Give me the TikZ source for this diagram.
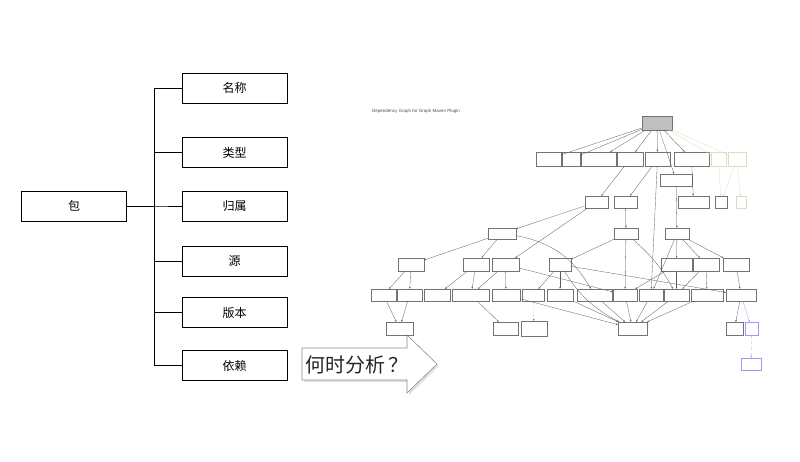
\documentclass[tikz,border=0pt]{standalone}
\usepackage{fontspec}
\setmainfont{Liberation Sans}
\newfontfamily\cjk{Noto Sans CJK SC}
\usetikzlibrary{arrows.meta}
\begin{document}
\begin{tikzpicture}[
  x=1pt, y=-1pt,
  leaf/.style={draw, line width=0.8pt, rectangle, align=center, minimum width=105pt, minimum height=30pt, font=\cjk\fontsize{12}{14}\selectfont},
  gnode/.style={draw=black!55, line width=0.35pt, rectangle, inner sep=0pt, minimum height=12pt},
  faded/.style={gnode, draw=yellow!50!black!30},
  bluish/.style={gnode, draw=blue!40!white},
  dep/.style={draw=black!65, line width=0.3pt, -{Stealth[length=2pt,width=1.6pt]}},
  fdep/.style={dep, draw=yellow!50!black!30}
]
\useasboundingbox (0,0) rectangle (800,461);
% the package and its attributes
\node[leaf] (bao) at (74,206) {包};
\node[leaf] (mc) at (234.5,88) {名称};
\node[leaf] (lx) at (234.5,152.5) {类型};
\node[leaf] (gs) at (234.5,206) {归属};
\node[leaf] (yuan) at (234.5,261) {源};
\node[leaf] (bb) at (234.5,312.5) {版本};
\node[leaf] (yl) at (234.5,365.5) {依赖};
\foreach \n in {mc,lx,gs,yuan,bb,yl}
  \draw[line width=0.9pt] (bao.east) -- ++(28,0) |- (\n.west);

% block arrow
\fill[black!12] (304,350) -- (409,350) -- (409,337) -- (439,366) -- (409,395) -- (409,382) -- (304,382) -- cycle;
\draw[black!45, fill=white, line width=0.6pt] (302,348) -- (407,348) -- (407,335) -- (437,364) -- (407,393) -- (407,380) -- (302,380) -- cycle;
\node[font=\cjk\fontsize{20}{22}\selectfont, text=black!85] (when) at (357,365) {何时分析\hspace{3pt}？};

% dependency graph
\node[anchor=west, font=\fontsize{4.5}{5}\selectfont, text=black!70, inner sep=0pt] (title) at (372,111) {Dependency Graph for Graph Maven Plugin};

\node[gnode, fill=black!25, minimum width=30pt, minimum height=14pt] (root) at (657,123) {};
% row 1
\node[gnode, minimum width=25pt, minimum height=14pt] (a1) at (548.5,159) {};
\node[gnode, minimum width=18pt, minimum height=14pt] (a2) at (571,159) {};
\node[gnode, minimum width=35pt, minimum height=14pt] (a3) at (598.5,159) {};
\node[gnode, minimum width=26pt, minimum height=14pt] (a4) at (630,159) {};
\node[gnode, minimum width=25pt, minimum height=14pt] (a5) at (657.5,159) {};
\node[gnode, minimum width=35pt, minimum height=14pt] (a6) at (691.5,159) {};
\node[faded, minimum width=15pt, minimum height=14pt] (a7) at (718.5,159) {};
\node[faded, minimum width=18pt, minimum height=14pt] (a8) at (737,159) {};
\node[gnode, minimum width=32pt] (b1) at (676,180) {};
% row 2
\node[gnode, minimum width=23pt] (c1) at (596.5,202) {};
\node[gnode, minimum width=23pt] (c2) at (625.5,202) {};
\node[gnode, minimum width=31pt] (c3) at (693.5,202) {};
\node[gnode, minimum width=12pt] (c4) at (721,202) {};
\node[faded, minimum width=10pt] (c5) at (741,202) {};
% row 3
\node[gnode, minimum width=28pt, minimum height=11pt] (d1) at (502,233.5) {};
\node[gnode, minimum width=24pt, minimum height=11pt] (d2) at (626,233.5) {};
\node[gnode, minimum width=24pt, minimum height=11pt] (d3) at (677,233.5) {};
% row 4
\node[gnode, minimum width=26pt, minimum height=13pt] (e1) at (411,264.5) {};
\node[gnode, minimum width=26pt, minimum height=13pt] (e2) at (476,264.5) {};
\node[gnode, minimum width=27pt, minimum height=13pt] (e3) at (505.5,264.5) {};
\node[gnode, minimum width=22pt, minimum height=13pt] (e4) at (560,264.5) {};
\node[gnode, minimum width=31pt, minimum height=13pt] (e5) at (676.5,264.5) {};
\node[gnode, minimum width=26pt, minimum height=13pt] (e6) at (706,264.5) {};
\node[gnode, minimum width=26pt, minimum height=13pt] (e7) at (736,264.5) {};
% row 5
\node[gnode, minimum width=25pt] (f1) at (383.5,295) {};
\node[gnode, minimum width=25pt] (f2) at (409.5,295) {};
\node[gnode, minimum width=26pt] (f3) at (437,295) {};
\node[gnode, minimum width=37pt] (f4) at (471,295) {};
\node[gnode, minimum width=28pt] (f5) at (506,295) {};
\node[gnode, minimum width=22pt] (f6) at (533,295) {};
\node[gnode, minimum width=26pt] (f7) at (560,295) {};
\node[gnode, minimum width=35pt] (f8) at (594.5,295) {};
\node[gnode, minimum width=24pt] (f9) at (625,295) {};
\node[gnode, minimum width=24pt] (f10) at (651,295) {};
\node[gnode, minimum width=25pt] (f11) at (676.5,295) {};
\node[gnode, minimum width=32pt] (f12) at (707,295) {};
\node[gnode, minimum width=30pt] (f13) at (741,295) {};
% row 6
\node[gnode, minimum width=27pt, minimum height=13pt] (g1) at (399.5,328.5) {};
\node[gnode, minimum width=25pt, minimum height=13pt] (g2) at (505.5,328.5) {};
\node[gnode, minimum width=26pt, minimum height=15pt] (g3) at (534,328.5) {};
\node[gnode, minimum width=29pt, minimum height=13pt] (g4) at (632.5,328.5) {};
\node[gnode, minimum width=17pt, minimum height=13pt] (g5) at (734.5,328.5) {};
\node[bluish, minimum width=13pt, minimum height=13pt] (g6) at (751.5,328.5) {};
\node[bluish, minimum width=20pt] (h1) at (751,364) {};

\foreach \t in {a1,a2,a3,a4,a5,a6,b1}
  \draw[dep] (root) -- (\t);
\draw[fdep] (root) -- (a7);
\draw[fdep] (root) -- (a8);
\draw[dep] (a4) -- (c1);
\draw[dep] (a5) -- (c2);
\draw[dep] (a5) -- (f10);
\draw[dep] (a6) -- (c3);
\draw[fdep] (a7) -- (c4);
\draw[fdep] (a8) -- (c4);
\draw[fdep] (a8) -- (c5);
\draw[dep] (b1) -- (d3);
\draw[dep] (c1) -- (d1);
\draw[dep] (c1) -- (e3);
\draw[dep] (c2) -- (d2);
\draw[dep] (d1) -- (e1);
\draw[dep] (d1) -- (e2);
\draw[dep] (d1) to[bend left=25] (f8);
\draw[dep] (d2) -- (e4);
\draw[dep] (d2) -- (f9);
\draw[dep] (d2) to[bend left=10] (f11);
\draw[dep] (d3) -- (f10);
\draw[dep] (d3) -- (e5);
\draw[dep] (d3) -- (e6);
\draw[dep] (d3) -- (e7);
\draw[dep] (e1) -- (f1);
\draw[dep] (e1) -- (f2);
\draw[dep] (e2) -- (f3);
\draw[dep] (e2) -- (f4);
\draw[dep] (e3) -- (f4);
\draw[dep] (e3) -- (f5);
\draw[dep] (e3) -- (f9);
\draw[dep] (e4) -- (f6);
\draw[dep] (e4) -- (f7);
\draw[dep] (e4) -- (f13);
\draw[dep] (e4) to[bend right=15] (g4);
\draw[dep] (e5) -- (f9);
\draw[dep] (e5) -- (f11);
\draw[dep] (e6) -- (f11);
\draw[dep] (e6) -- (f12);
\draw[dep] (e7) -- (f13);
\draw[dep] (f1) -- (g1);
\draw[dep] (f2) -- (g1);
\draw[dep] (f4) -- (g2);
\draw[dep, dotted] (f6) -- (g3);
\foreach \s in {f5,f7,f8,f9,f10,f11,f12}
  \draw[dep] (\s) -- (g4);
\draw[dep] (f13) -- (g5);
\draw[dep, draw=blue!40!white] (f13) -- (g6);
\draw[dep, draw=blue!40!white, dashed] (g6) -- (h1);
\end{tikzpicture}
\end{document}
